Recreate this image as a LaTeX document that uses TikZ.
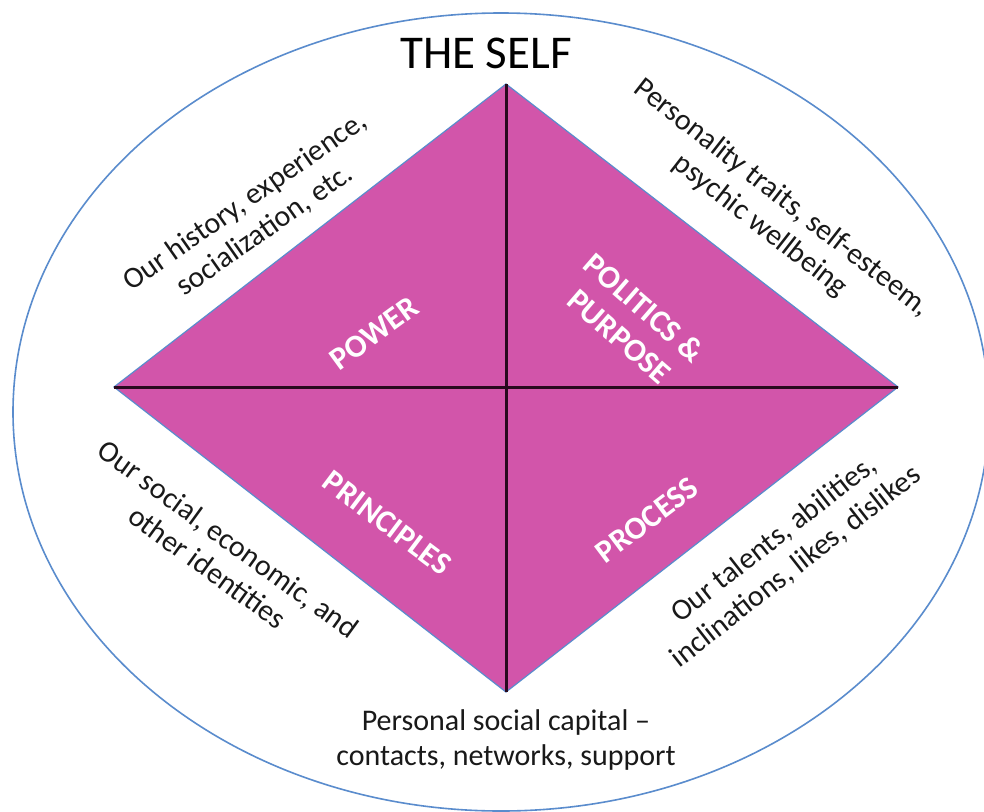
\documentclass[tikz,border=0pt]{standalone}
\usepackage{fontspec}
\setmainfont{Carlito}
\definecolor{diamfill}{RGB}{210,85,170}
\definecolor{edgeblue}{RGB}{90,140,205}
\definecolor{crossline}{RGB}{40,10,30}
\tikzset{
  note/.style={align=center,font=\fontsize{30}{35}\selectfont,text=black!90,inner sep=0pt},
  quad/.style={align=center,font=\bfseries\fontsize{32}{38}\selectfont,text=white,inner sep=0pt},
}
\begin{document}
\begin{tikzpicture}[x=1pt,y=-1pt]
\useasboundingbox (0,0) rectangle (984,811);
\fill[white] (0,0) rectangle (984,811);
% outer ellipse
\draw[edgeblue,line width=1.6pt] (501,412) ellipse [x radius=488, y radius=399];
% diamond corners
\coordinate (T) at (506,84);
\coordinate (L) at (114,387);
\coordinate (R) at (898,387);
\coordinate (B) at (506,692);
\fill[diamfill] (T) -- (R) -- (B) -- (L) -- cycle;
\draw[edgeblue,line width=1.2pt,line join=miter] (T) -- (R) -- (B) -- (L) -- cycle;
\draw[crossline,line width=3pt] (T) -- (B);
\draw[crossline,line width=3pt] (L) -- (R);
% title
\node[font=\fontsize{47}{50}\selectfont,inner sep=0pt] (title) at (486,53) {THE SELF};
% quadrant labels
\node[quad,rotate=36] (power) at (374,333) {POWER};
\node[quad,rotate=-41] (politics) at (632,322) {POLITICS \&\\PURPOSE};
\node[quad,rotate=-37] (principles) at (387,523) {PRINCIPLES};
\node[quad,rotate=37] (process) at (647,520) {PROCESS};
% notes
\node[note,rotate=35] (history) at (255,216) {Our history, experience,\\socialization, etc.};
\node[note,rotate=-38] (personality) at (771,212) {Personality traits, self-esteem,\\psychic wellbeing};
\node[note,rotate=-36] (social) at (218,553) {Our social, economic, and\\other identities};
\node[note,rotate=38] (talents) at (785,553) {Our talents, abilities,\\inclinations, likes, dislikes};
\node[note] (capital) at (506,740) {Personal social capital –\\contacts, networks, support};
\end{tikzpicture}
\end{document}
